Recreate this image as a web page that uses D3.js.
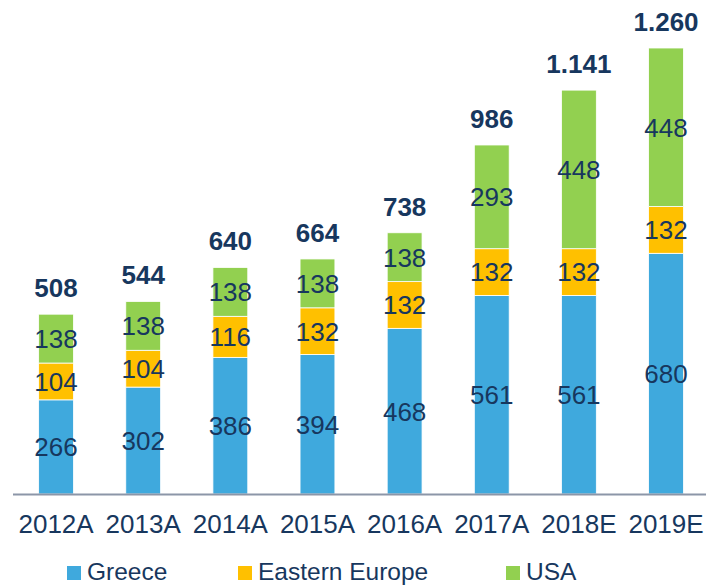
<!DOCTYPE html>
<html><head><meta charset="utf-8">
<script src="https://cdn.jsdelivr.net/npm/d3@7"></script>
<style>body{margin:0;background:#fff}svg{display:block}</style>
</head><body>
<script>
const categories = ["2012A","2013A","2014A","2015A","2016A","2017A","2018E","2019E"];
const greece = [266,302,386,394,468,561,561,680];
const easternEurope = [104,104,116,132,132,132,132,132];
const usa = [138,138,138,138,138,293,448,448];
const totals = ["508","544","640","664","738","986","1.141","1.260"];
const seriesNames = ["Greece","Eastern Europe","USA"];
const colors = ["#3FA9DD","#FFC000","#92D050"];

const W=706,H=586;
const textColor="#17375E";
const svg=d3.select("body").append("svg").attr("width",W).attr("height",H);
const font="Liberation Sans, Arial, sans-serif";

const rows=categories.map((c,i)=>({cat:c,Greece:greece[i],"Eastern Europe":easternEurope[i],USA:usa[i],total:totals[i]}));
const stack=d3.stack().keys(seriesNames)(rows);

const x=d3.scaleBand().domain(categories).range([12.5,709.6]).paddingInner(0.6).paddingOuter(0.3);
const y=d3.scaleLinear().domain([0,1260]).range([494,48]);

const g=svg.append("g");
stack.forEach((layer,li)=>{
  const lg=g.append("g");
  lg.selectAll("rect").data(layer).join("rect")
    .attr("x",d=>x(d.data.cat)).attr("width",x.bandwidth())
    .attr("y",d=>y(d[1])).attr("height",d=>y(d[0])-y(d[1]))
    .attr("fill",colors[li]).attr("stroke","#fff").attr("stroke-width",0.8);
  lg.selectAll("text").data(layer).join("text")
    .attr("x",d=>x(d.data.cat)+x.bandwidth()/2)
    .attr("y",d=>(y(d[0])+y(d[1]))/2)
    .attr("dy","0.36em").attr("text-anchor","middle")
    .attr("font-family",font).attr("font-size",26).attr("fill",textColor)
    .text(d=>d[1]-d[0]);
});
// totals
g.selectAll("text.total").data(rows).join("text").attr("class","total")
  .attr("x",d=>x(d.cat)+x.bandwidth()/2)
  .attr("y",(d,i)=>y(greece[i]+easternEurope[i]+usa[i])-17)
  .attr("text-anchor","middle").attr("font-family",font).attr("font-weight","bold")
  .attr("font-size",26).attr("fill",textColor).text(d=>d.total);

// axis
const xAxis=svg.append("g").attr("transform","translate(0,494.5)")
  .call(d3.axisBottom(x).tickSize(0).tickPadding(20));
xAxis.select(".domain").attr("d","M13,0H706").attr("stroke","#8C96A8").attr("stroke-width",2);
xAxis.selectAll("text").attr("font-family",font).attr("font-size",26).attr("fill",textColor);

// legend
const legX=[67,238,506];
const leg=svg.append("g");
seriesNames.forEach((n,i)=>{
  leg.append("rect").attr("x",legX[i]).attr("y",566).attr("width",14).attr("height",14).attr("fill",colors[i]);
  leg.append("text").attr("x",legX[i]+20).attr("y",580).attr("font-family",font).attr("font-size",24.5).attr("fill",textColor).text(n);
});
</script>
</body></html>
